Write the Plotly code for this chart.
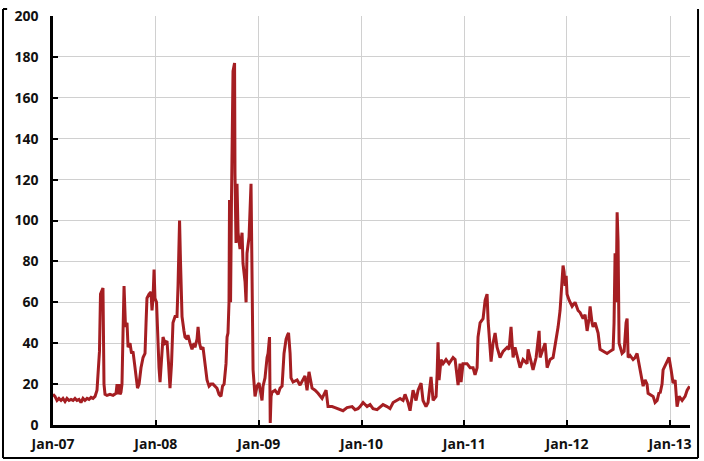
import pandas as pd
import plotly.graph_objects as go

year_frac = [
    2007.000, 2007.019, 2007.039, 2007.058, 2007.078, 2007.097, 2007.117, 2007.136, 2007.156, 2007.175,
    2007.195, 2007.214, 2007.233, 2007.253, 2007.272, 2007.292, 2007.311, 2007.331, 2007.350, 2007.370,
    2007.389, 2007.409, 2007.428, 2007.443, 2007.452, 2007.462, 2007.477, 2007.486, 2007.496, 2007.506,
    2007.525, 2007.554, 2007.584, 2007.613, 2007.623, 2007.632, 2007.642, 2007.652, 2007.661, 2007.671,
    2007.681, 2007.691, 2007.705, 2007.720, 2007.730, 2007.749, 2007.764, 2007.778, 2007.793, 2007.807,
    2007.822, 2007.837, 2007.856, 2007.876, 2007.895, 2007.905, 2007.914, 2007.934, 2007.953, 2007.963,
    2007.973, 2007.983, 2007.992, 2008.007, 2008.017, 2008.031, 2008.041, 2008.055, 2008.070, 2008.090,
    2008.109, 2008.124, 2008.138, 2008.153, 2008.167, 2008.187, 2008.206, 2008.216, 2008.231, 2008.240,
    2008.255, 2008.274, 2008.284, 2008.304, 2008.313, 2008.333, 2008.352, 2008.372, 2008.381, 2008.401,
    2008.411, 2008.425, 2008.440, 2008.459, 2008.479, 2008.498, 2008.518, 2008.537, 2008.556, 2008.576,
    2008.595, 2008.615, 2008.634, 2008.649, 2008.664, 2008.683, 2008.693, 2008.702, 2008.712, 2008.717,
    2008.727, 2008.736, 2008.741, 2008.751, 2008.766, 2008.770, 2008.780, 2008.790, 2008.800, 2008.819,
    2008.839, 2008.848, 2008.868, 2008.878, 2008.887, 2008.907, 2008.926, 2008.936, 2008.946, 2008.965,
    2008.985, 2009.004, 2009.019, 2009.033, 2009.043, 2009.062, 2009.082, 2009.092, 2009.106, 2009.113,
    2009.121, 2009.130, 2009.160, 2009.189, 2009.208, 2009.228, 2009.247, 2009.267, 2009.281, 2009.291,
    2009.306, 2009.315, 2009.335, 2009.374, 2009.403, 2009.432, 2009.451, 2009.471, 2009.490, 2009.520,
    2009.549, 2009.578, 2009.617, 2009.636, 2009.656, 2009.675, 2009.714, 2009.743, 2009.792, 2009.821,
    2009.860, 2009.889, 2009.909, 2009.938, 2009.967, 2009.987, 2010.016, 2010.035, 2010.055, 2010.084,
    2010.113, 2010.152, 2010.181, 2010.210, 2010.249, 2010.278, 2010.308, 2010.346, 2010.376, 2010.405,
    2010.424, 2010.453, 2010.473, 2010.502, 2010.531, 2010.551, 2010.580, 2010.599, 2010.628, 2010.648,
    2010.677, 2010.697, 2010.726, 2010.736, 2010.745, 2010.755, 2010.774, 2010.794, 2010.823, 2010.852,
    2010.891, 2010.911, 2010.930, 2010.940, 2010.959, 2010.969, 2010.988, 2011.027, 2011.057, 2011.086,
    2011.105, 2011.125, 2011.134, 2011.154, 2011.183, 2011.203, 2011.222, 2011.232, 2011.261, 2011.280,
    2011.300, 2011.319, 2011.348, 2011.378, 2011.417, 2011.436, 2011.455, 2011.475, 2011.494, 2011.524,
    2011.543, 2011.572, 2011.611, 2011.621, 2011.650, 2011.669, 2011.699, 2011.728, 2011.738, 2011.767,
    2011.786, 2011.806, 2011.835, 2011.864, 2011.893, 2011.913, 2011.932, 2011.947, 2011.961, 2011.971,
    2011.981, 2011.991, 2012.000, 2012.020, 2012.049, 2012.078, 2012.107, 2012.127, 2012.156, 2012.175,
    2012.195, 2012.214, 2012.224, 2012.243, 2012.253, 2012.273, 2012.302, 2012.321, 2012.350, 2012.389,
    2012.418, 2012.448, 2012.457, 2012.467, 2012.477, 2012.487, 2012.496, 2012.506, 2012.535, 2012.555,
    2012.574, 2012.584, 2012.594, 2012.613, 2012.642, 2012.662, 2012.681, 2012.710, 2012.740, 2012.759,
    2012.778, 2012.788, 2012.808, 2012.837, 2012.856, 2012.876, 2012.895, 2012.905, 2012.924, 2012.934,
    2012.963, 2012.983, 2012.992, 2013.012, 2013.031, 2013.051, 2013.070, 2013.090, 2013.119, 2013.148,
    2013.168, 2013.192,
]

values = [
    15, 14, 12, 13, 12, 13, 11.5, 13, 12, 12.5,
    12, 13, 12, 12.5, 11, 13, 12, 13, 12.5, 13.5,
    13, 14, 17, 30, 36, 64, 66, 67, 20, 15,
    14.5, 15, 14.5, 15.5, 20, 15, 20, 15, 16, 20,
    45, 68, 48, 50, 38, 40, 35, 36, 30, 25,
    18, 20, 28, 33, 35, 50, 62, 64, 65, 56,
    62, 76, 62, 60, 42, 28, 21, 30, 43, 40,
    41, 30, 18, 30, 50, 53, 53, 68, 100, 80,
    53, 46, 43, 42, 44, 40, 37, 40, 38, 42,
    48, 40, 37, 38, 30, 22, 19, 20, 20, 19,
    18, 15, 14, 19, 20, 30, 43, 45, 60, 110,
    60, 110, 148, 173, 177, 123, 89, 118, 94, 86,
    94, 79, 70, 60, 84, 92, 118, 48, 27, 14,
    19, 20.5, 17, 12, 19, 23, 33, 35, 43, 1,
    14, 16, 17, 15, 18, 19, 35, 42, 44, 45,
    35, 23, 21, 22, 19.5, 22, 24, 17, 26, 18,
    17, 15.5, 13, 15, 17, 9, 9, 8.5, 7.5, 7,
    8.5, 9, 9, 7.5, 8, 9, 11, 10, 9, 10,
    8, 7.5, 9, 10, 9, 8, 11, 12, 13, 12,
    15, 11, 7, 17, 12, 17, 20.5, 12, 9, 11,
    23.5, 12, 14, 25, 40.5, 22, 32, 30, 32, 30,
    33, 32, 25, 19.5, 30, 21, 30, 30, 28, 28,
    24.5, 28, 43, 50, 52, 61, 64, 51, 31, 40,
    45, 38, 33, 36, 38, 37, 48, 33, 38, 32,
    28, 32, 30, 37, 31, 27, 33, 46, 33, 38,
    40, 28, 32, 33, 41.5, 48, 56, 69, 78, 75,
    68, 73, 64, 61, 58, 60, 56, 55, 52, 54,
    46, 52, 58, 50, 48, 50, 45, 37, 36, 35,
    36, 37, 50, 84, 60, 104, 90, 40, 35, 36,
    50, 52, 33, 34, 32, 33, 35, 28, 19, 22,
    20, 15.5, 15, 14, 11, 12, 16, 15.5, 20, 27,
    30, 32, 33, 27, 20.5, 22, 9, 14, 12, 14,
    17, 19,
]

y_ticks = [0, 20, 40, 60, 80, 100, 120, 140, 160, 180, 200]
x_start = "2007-01-01"
x_end = "2013-03-13"

base = pd.Timestamp("2007-01-01")
dates = [base + pd.to_timedelta((yf - 2007.0) * 365.25, unit="D") for yf in year_frac]

LINE = "#A51E22"
GRID = "#D0D0D0"
FONT = dict(family="Open Sans, Noto Sans, sans-serif", size=14, color="#111111", weight="bold")

fig = go.Figure()
fig.add_trace(go.Scatter(x=dates, y=values, mode="lines",
                         line=dict(color=LINE, width=3), hoverinfo="x+y",
                         showlegend=False))

fig.update_layout(
    width=704, height=461,
    margin=dict(l=53, r=14, t=16, b=36),
    paper_bgcolor="white", plot_bgcolor="white",
    font=FONT,
    xaxis=dict(
        type="date", range=[x_start, x_end], automargin=False,
        tick0="2007-01-01", dtick="M12", tickformat="%b-%y",
        showgrid=True, gridcolor=GRID, gridwidth=1,
        showline=True, linecolor="black", linewidth=3,
        ticks="inside", ticklen=5, tickwidth=2, tickcolor="black",
        tickfont=FONT, ticklabelstandoff=4,
        zeroline=False,
    ),
    yaxis=dict(
        range=[0, 200], tickvals=y_ticks, automargin=False,
        showgrid=True, gridcolor=GRID, gridwidth=1,
        showline=True, linecolor="black", linewidth=2.5,
        ticks="inside", ticklen=5, tickwidth=2, tickcolor="black",
        tickfont=FONT, ticklabelstandoff=9,
        zeroline=False,
    ),
)

# Outer frame around the chart
frame = dict(type="line", xref="paper", yref="paper", line=dict(color="black", width=2))
fig.add_shape(**frame, x0=-0.0785, x1=-0.0785, y0=-0.0807, y1=1.0171)
fig.add_shape(**frame, x0=-0.0785, x1=-0.072, y0=1.0171, y1=1.0171)
fig.add_shape(**frame, x0=-0.0785, x1=1.0126, y0=-0.0807, y1=-0.0807)
fig.add_shape(**frame, x0=1.0126, x1=1.0126, y0=-0.0807, y1=1.0171)

fig.write_html("out.html", config={"displayModeBar": False},
               post_script="document.body.style.margin='0px';document.body.style.overflow='hidden';")
